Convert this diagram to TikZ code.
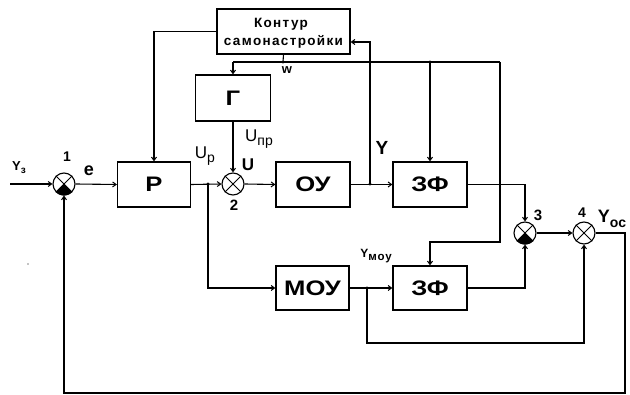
\documentclass[tikz,border=0pt]{standalone}
\usepackage{fontspec}
\setmainfont{Liberation Sans}
\usetikzlibrary{arrows.meta}
\newcommand\fs[1]{\fontsize{#1}{#1}\selectfont}
\newcommand\lsub[2]{\raisebox{-0.45ex}{\fs{#1}#2}}
\begin{document}
\begin{tikzpicture}[x=1pt,y=-1pt,
  line width=1.1pt,
  box/.style={draw, line width=1.2pt, minimum width=74pt, minimum height=45pt, inner sep=0pt, font=\fs{21}\bfseries\addfontfeature{FakeStretch=1.22}},
  sumnode/.style={circle, draw, line width=1.1pt, minimum size=22pt, inner sep=0pt},
  arr/.style={-{Straight Barb[length=3.5pt,width=5pt,line width=1pt]}},
  lbl/.style={inner sep=0pt},
  dot/.style={circle, fill, inner sep=0pt, minimum size=3.2pt}]
\useasboundingbox (0,0) rectangle (630,395);
% blocks
\node[box, minimum width=133pt] (K) at (283.5,31.5) {};
\node[lbl, font=\fs{13.5}\bfseries\addfontfeature{LetterSpace=10}] (Kt1) at (281,24.5) {Контур};
\node[lbl, font=\fs{13.5}\bfseries\addfontfeature{LetterSpace=10}] (Kt2) at (283.5,42) {самонастройки};
\node[box, minimum width=75pt, minimum height=46pt] (G) at (233,98) {Г};
\node[box, minimum width=73pt] (P) at (154,184.5) {P};
\node[box] (OU) at (313,184.5) {ОУ};
\node[box] (ZF1) at (430,184.5) {ЗФ};
\node[box, minimum width=73pt, minimum height=44pt] (MOU) at (312.5,288) {МОУ};
\node[box, minimum height=44pt] (ZF2) at (430,288) {ЗФ};
% summators
\node[sumnode] (s1) at (64,184) {};
\node[sumnode] (s2) at (233,184) {};
\node[sumnode] (s3) at (525,233) {};
\node[sumnode] (s4) at (584,233) {};
\foreach \s in {s1,s2,s3,s4}
  \draw[line width=0.8pt] (\s.north west) -- (\s.south east) (\s.north east) -- (\s.south west);
\foreach \s in {s1,s3}
  \fill (\s.center) -- (\s.225) -- (\s.240) -- (\s.255) -- (\s.270) -- (\s.285) -- (\s.300) -- (\s.315) -- cycle;
% coordinates
\coordinate (in) at (10,184);
\coordinate (j1) at (208,184);
\coordinate (j2) at (370,184);
\coordinate (j3) at (367,288);
\coordinate (wj) at (283,62);
\coordinate (wl) at (233,62);
\coordinate (wr) at (500,62);
\coordinate (Kin) at ([yshift=-10.5pt]K.east);
% main path
\draw[arr] (in) -- (s1.west);
\draw[arr] (s1.east) -- (P.west);
\draw[arr] (P.east) -- (s2.west);
\draw[arr] (j1) |- (MOU.west);
\draw[arr] (s2.east) -- (OU.west);
\draw[arr] (OU.east) -- (ZF1.west);
\draw[arr] (j2) |- (Kin);
\draw[arr] (K.west) -| (P.north);
\draw (K.south) -- (wj);
\draw (wl) -- (wr);
\draw[arr] (wl) -- (G.north);
\draw[arr] (ZF1.north |- wj) -- (ZF1.north);
\draw[arr] (wr) -- (500,242) -| (ZF2.north);
\draw[arr] (G.south) -- (s2.north);
\draw[arr] (ZF1.east) -| (s3.north);
\draw[arr] (ZF2.east) -| (s3.south);
\draw[arr] (MOU.east) -- (ZF2.west);
\draw[arr] (j3) -- (367,343) -| (s4.south);
\draw[arr] (s3.east) -- (s4.west);
\draw[arr] (s4.east) -- (625,233) -- (625,393) -| (s1.south);
% junction dots
\node[dot] (d1) at (j1) {};
\node[dot] (d2) at (j2) {};
\node[dot] (d3) at (j3) {};
\node[dot] (d4) at (wj) {};
\node[dot] (d5) at (ZF1.north |- wj) {};
% labels
\node[lbl, font=\fs{13}\bfseries] (lYz) at (19,168) {Y\lsub{10}{з}};
\node[lbl, font=\fs{14}\bfseries] (l1) at (67,157) {1};
\node[lbl, font=\fs{18}\bfseries] (le) at (89,171) {e};
\node[lbl, font=\fs{17}] (lUp) at (205,156) {U\lsub{14}{p}};
\node[lbl, font=\fs{17}] (lUpr) at (259,139) {U\lsub{14}{пр}};
\node[lbl, font=\fs{17}\bfseries] (lU) at (248,165) {U};
\node[lbl, font=\fs{15}\bfseries] (l2) at (234,205) {2};
\node[lbl, font=\fs{13}\bfseries] (lw) at (287,70) {w};
\node[lbl, font=\fs{19}\bfseries] (lY) at (382,148) {Y};
\node[lbl, font=\fs{15}\bfseries] (l3) at (538,215) {3};
\node[lbl, font=\fs{14}\bfseries] (l4) at (582,213) {4};
\node[lbl, font=\fs{18}\bfseries] (lYoc) at (612,219) {Y\lsub{14}{ос}};
\node[lbl, font=\fs{12}\bfseries\addfontfeature{LetterSpace=8}] (lYmou) at (376,256) {Y\lsub{11.5}{моу}};
\fill (28,264) circle (0.7);
\end{tikzpicture}
\end{document}
